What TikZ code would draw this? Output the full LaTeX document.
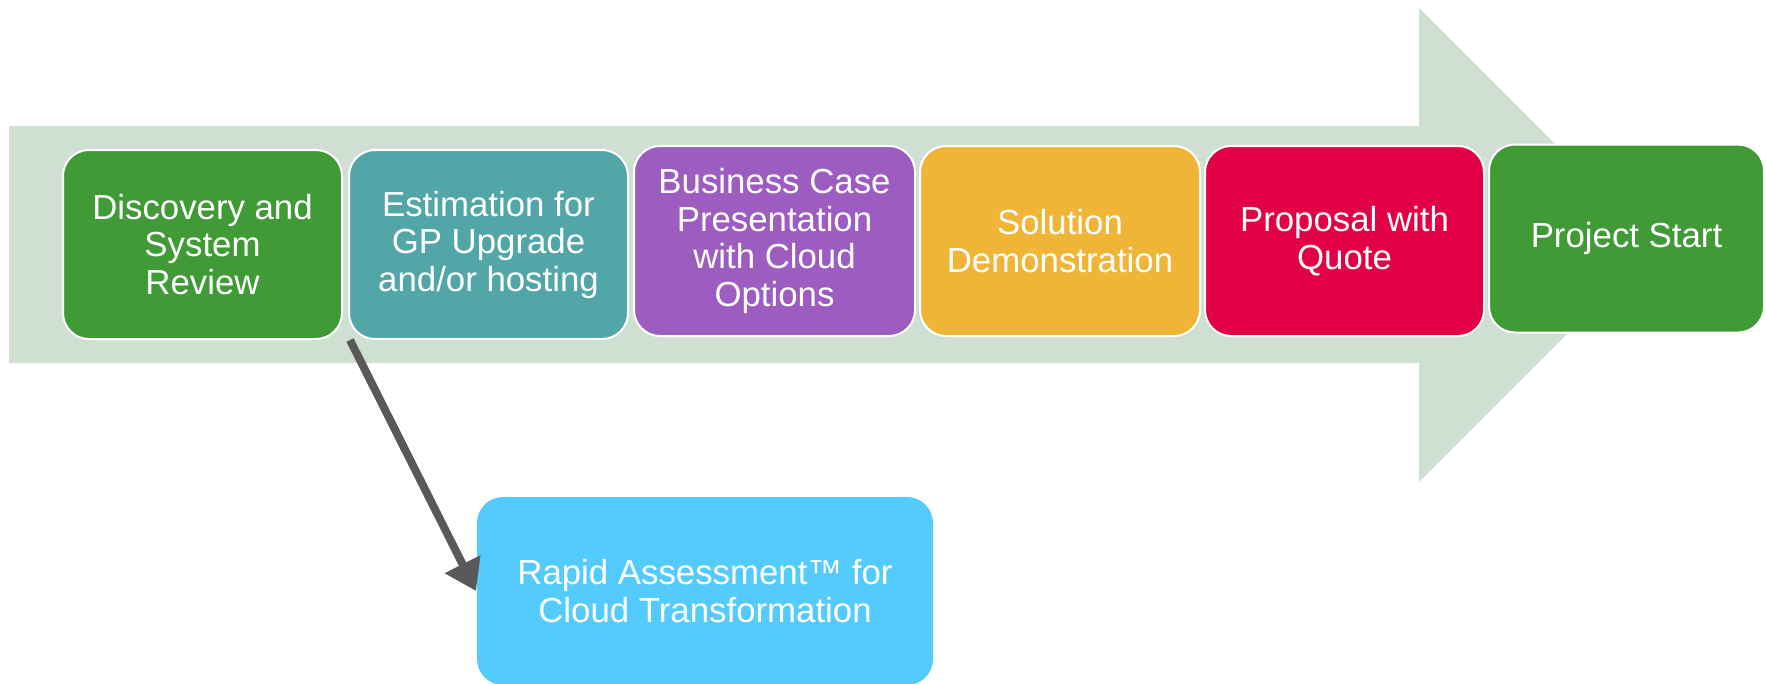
\documentclass[tikz,border=0pt]{standalone}
\usepackage{fontspec}
\setmainfont{Liberation Sans}
\usetikzlibrary{arrows.meta}
\definecolor{bandc}{HTML}{CFDFD1}
\definecolor{greenc}{HTML}{409B36}
\definecolor{tealc}{HTML}{52A6A8}
\definecolor{purplec}{HTML}{9C5CC0}
\definecolor{yellowc}{HTML}{F0B436}
\definecolor{redc}{HTML}{E20046}
\definecolor{cyanc}{HTML}{54CBFD}
\definecolor{arrowc}{HTML}{595959}
\tikzset{
  stagebox/.style={draw=white, line width=2pt, rounded corners=26pt, inner sep=0pt,
    align=center, text=white, font=\fontsize{34.8}{37.5}\selectfont},
  linkarrow/.style={draw=arrowc, line width=8pt, -{Triangle[length=30pt,width=38pt]}}
}
\begin{document}
\begin{tikzpicture}[x=1pt,y=-1pt]
\useasboundingbox (0,0) rectangle (1766,683);
\fill[bandc] (9,126) -- (1419,126) -- (1419,8) -- (1656,245) -- (1419,482) -- (1419,363) -- (9,363) -- cycle;
\node[stagebox, fill=greenc, minimum width=279pt, minimum height=189pt] (b1) at (202.5,244.5) {Discovery and\\System\\Review};
\node[stagebox, fill=tealc, minimum width=279pt, minimum height=189pt] (b2) at (488.5,244.5) {Estimation for\\GP Upgrade\\and/or hosting};
\node[stagebox, fill=purplec, minimum width=281pt, minimum height=190pt] (b3) at (774.5,241) {Business Case\\Presentation\\with Cloud\\Options};
\node[stagebox, fill=yellowc, minimum width=280pt, minimum height=190pt] (b4) at (1060,241) {Solution\\Demonstration};
\node[stagebox, fill=redc, minimum width=279pt, minimum height=190pt] (b5) at (1344.5,241) {Proposal with\\Quote};
\node[stagebox, fill=greenc, minimum width=275pt, minimum height=188pt] (b6) at (1626.5,238.5) {Project Start};
\node[stagebox, draw=none, fill=cyanc, minimum width=456pt, minimum height=188pt] (rapid) at (705,591) {Rapid Assessment™ for\\Cloud Transformation};
\coordinate (astart) at (350,340);
\draw[linkarrow] (astart) -- (rapid.west);
\end{tikzpicture}
\end{document}
